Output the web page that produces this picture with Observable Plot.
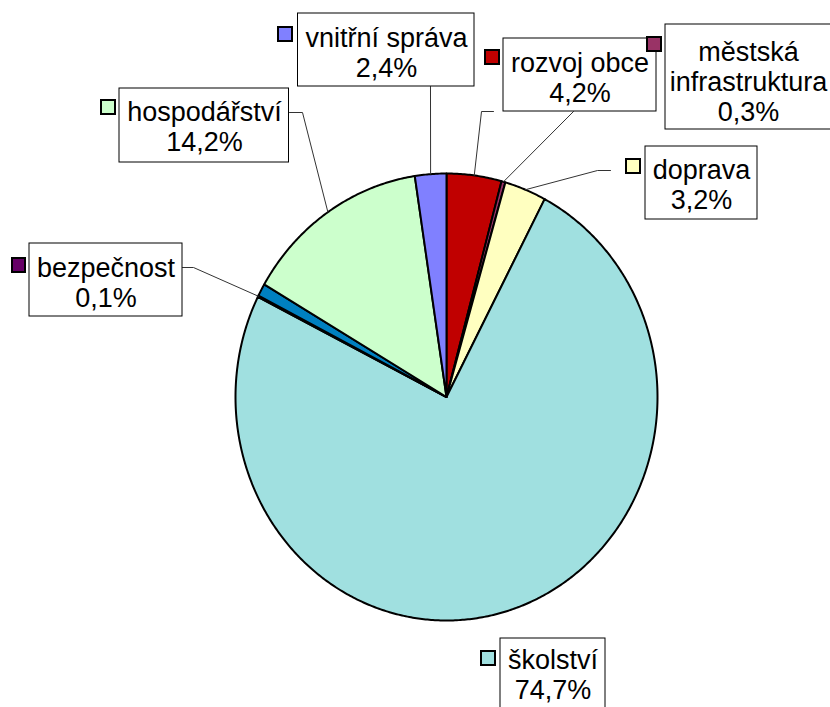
<!DOCTYPE html>
<html>
<head>
<meta charset="utf-8">
<script src="https://cdn.jsdelivr.net/npm/d3@7"></script>
<script src="https://cdn.jsdelivr.net/npm/@observablehq/plot@0.6"></script>
<style>
  html, body { margin: 0; padding: 0; background: #ffffff; }
  #chart { width: 830px; height: 707px; }
  svg { font-family: "Liberation Sans", Arial, sans-serif; }
</style>
</head>
<body>
<div id="chart"></div>
<script>
// ---- data (clockwise from 12 o'clock) ----
const categories = ["rozvoj obce", "městská infrastruktura", "doprava", "školství", "bezpečnost", "", "hospodářství", "vnitřní správa"];
const shares = [4.2, 0.3, 3.2, 74.7, 0.1, 0.9, 14.2, 2.4];
const labelNames = ["rozvoj obce", "městská\ninfrastruktura", "doprava", "školství", "bezpečnost", null, "hospodářství", "vnitřní správa"];

// ---- styles ----
const sliceColors = ["#C00000", "#993366", "#FFFFC0", "#A0E0E0", "#660066", "#0080C0", "#CCFFCC", "#8080FF"];

// ---- layout (pixels) ----
const pie = {cx: 446, cy: 396.5, rx: 211, ry: 223.5};
// label box [x1, x2, y1, y2], key square [x1, x2, y1, y2], text centre x / y, leader start points
const labelLayout = {
  "rozvoj obce":            {box: [503, 656, 38, 111],   key: [485, 499, 50, 64],   tx: 579.5, ty: 77,  lead: [[493, 111], [481, 111]]},
  "městská infrastruktura": {box: [665, 842, 24, 129],   key: [647, 661, 37, 51],   tx: 748,   ty: 81,  lead: [[573, 111]]},
  "doprava":                {box: [645, 757, 146, 219],  key: [626, 640, 159, 173], tx: 701,   ty: 184, lead: [[610, 170], [597, 170]]},
  "školství":               {box: [500, 605, 638, 720],  key: [481, 495, 651, 665], tx: 552.5, ty: 674, lead: null},
  "bezpečnost":             {box: [29, 182, 243, 316],   key: [12, 25, 258, 272],   tx: 105.5, ty: 282, lead: [[182, 267], [193, 267]]},
  "hospodářství":           {box: [119, 288.5, 88, 162], key: [101, 115, 100, 114], tx: 204,   ty: 126, lead: [[289, 112], [302, 112]]},
  "vnitřní správa":         {box: [297.5, 474, 13, 86],  key: [278, 292, 27, 41],   tx: 386,   ty: 52,  lead: [[430, 86]]}
};

// ---- geometry from the data ----
const arcs = d3.pie().sort(null).value(d => d)(shares);
const ept = a => ({x: pie.cx + pie.rx * Math.sin(a), y: pie.cy - pie.ry * Math.cos(a)});

const slices = arcs.map((a, i) => {
  const pts = [{x: pie.cx, y: pie.cy}];
  const n = Math.max(2, Math.ceil((a.endAngle - a.startAngle) / (Math.PI / 360)));
  for (let k = 0; k <= n; k++) pts.push(ept(a.startAngle + (a.endAngle - a.startAngle) * k / n));
  return {name: categories[i], color: sliceColors[i], points: pts};
});

const fmt = v => v.toFixed(1).replace(".", ",") + "%";

const labels = arcs.map((a, i) => ({a, i})).filter(d => labelNames[d.i] !== null).map(({a, i}) => {
  const L = labelLayout[categories[i]];
  return {
    name: categories[i],
    text: labelNames[i] + "\n" + fmt(shares[i]),
    color: sliceColors[i],
    L,
    mid: ept((a.startAngle + a.endAngle) / 2)
  };
});

const leaders = labels.filter(d => d.L.lead).flatMap(d =>
  [...d.L.lead.map(p => ({name: d.name, x: p[0], y: p[1]})), {name: d.name, x: d.mid.x, y: d.mid.y}]
);

const marks = [
  ...slices.map(s => Plot.line(s.points, {
    x: "x", y: "y", curve: "linear-closed",
    fill: s.color, stroke: "#000", strokeWidth: 2, strokeLinejoin: "round"
  })),
  Plot.line(leaders, {x: "x", y: "y", z: "name", stroke: "#333", strokeWidth: 1}),
  Plot.rect(labels, {
    x1: d => d.L.box[0], x2: d => d.L.box[1], y1: d => d.L.box[2], y2: d => d.L.box[3],
    fill: "#fff", stroke: "#000", strokeWidth: 1
  }),
  Plot.rect(labels, {
    x1: d => d.L.key[0], x2: d => d.L.key[1], y1: d => d.L.key[2], y2: d => d.L.key[3],
    fill: d => d.color, stroke: "#000", strokeWidth: 2
  }),
  Plot.text(labels, {
    x: d => d.L.tx, y: d => d.L.ty,
    text: "text", fontSize: 27, lineHeight: 1.12, fill: "#000",
    textAnchor: "middle", lineAnchor: "middle"
  })
];

const chart = Plot.plot({
  width: 830,
  height: 707,
  margin: 0,
  x: {domain: [0, 830], range: [0, 830], axis: null},
  y: {domain: [0, 707], range: [0, 707], axis: null},
  color: {type: "identity"},
  style: {background: "#fff", fontFamily: "'Liberation Sans', Arial, sans-serif"},
  marks
});
document.getElementById("chart").appendChild(chart);
</script>
</body>
</html>
